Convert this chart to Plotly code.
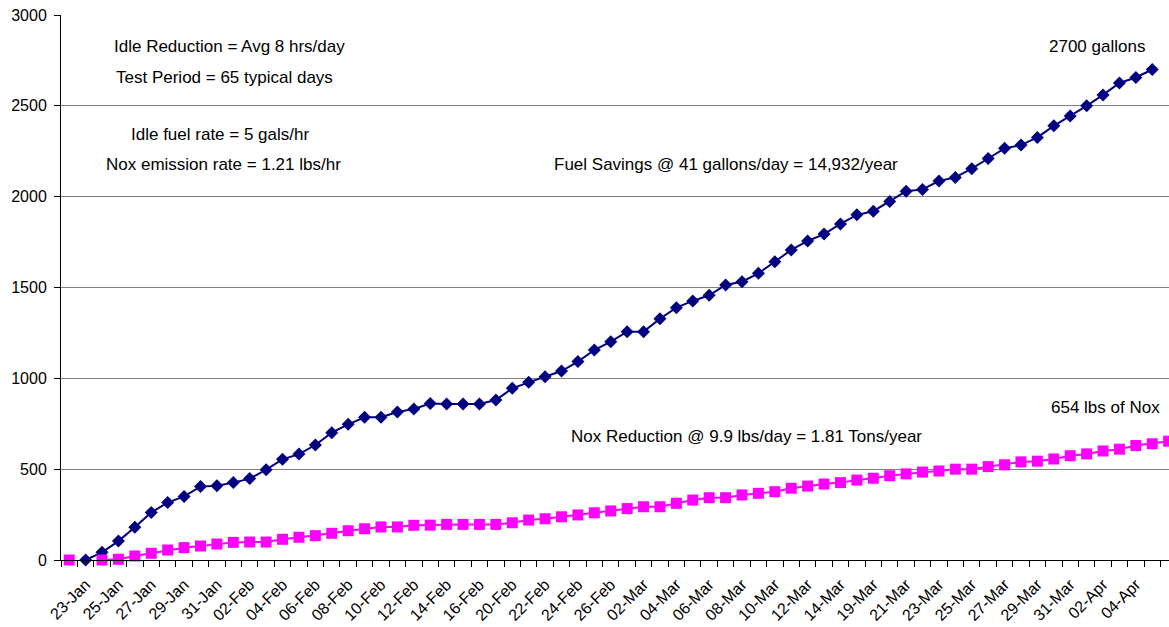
import plotly.graph_objects as go

categories = [
    "22-Jan", "23-Jan", "24-Jan", "25-Jan", "26-Jan", "27-Jan", "28-Jan", "29-Jan", "30-Jan", "31-Jan",
    "01-Feb", "02-Feb", "03-Feb", "04-Feb", "05-Feb", "06-Feb", "07-Feb", "08-Feb", "09-Feb", "10-Feb",
    "11-Feb", "12-Feb", "13-Feb", "14-Feb", "15-Feb", "16-Feb", "17-Feb", "20-Feb", "21-Feb", "22-Feb",
    "23-Feb", "24-Feb", "25-Feb", "26-Feb", "27-Feb", "02-Mar", "03-Mar", "04-Mar", "05-Mar", "06-Mar",
    "07-Mar", "08-Mar", "09-Mar", "10-Mar", "11-Mar", "12-Mar", "13-Mar", "14-Mar", "15-Mar", "19-Mar",
    "20-Mar", "21-Mar", "22-Mar", "23-Mar", "24-Mar", "25-Mar", "26-Mar", "27-Mar", "28-Mar", "29-Mar",
    "30-Mar", "31-Mar", "01-Apr", "02-Apr", "03-Apr", "04-Apr", "05-Apr", "06-Apr",
]

shown_labels = [
    "23-Jan", "25-Jan", "27-Jan", "29-Jan", "31-Jan", "02-Feb", "04-Feb", "06-Feb", "08-Feb", "10-Feb",
    "12-Feb", "14-Feb", "16-Feb", "20-Feb", "22-Feb", "24-Feb", "26-Feb", "02-Mar", "04-Mar", "06-Mar",
    "08-Mar", "10-Mar", "12-Mar", "14-Mar", "19-Mar", "21-Mar", "23-Mar", "25-Mar", "27-Mar", "29-Mar",
    "31-Mar", "02-Apr", "04-Apr",
]

# Cumulative fuel savings (gallons)
fuel_savings = [
    None, 0, 42, 104, 180, 262, 316, 350, 404, 409,
    426, 448, 497, 554, 583, 633, 701, 747, 786, 786,
    815, 831, 861, 859, 859, 859, 881, 945, 978, 1009,
    1040, 1092, 1156, 1202, 1257, 1257, 1328, 1389, 1426, 1457,
    1514, 1532, 1578, 1642, 1707, 1756, 1794, 1850, 1900, 1920,
    1974, 2030, 2040, 2086, 2106, 2154, 2210, 2266, 2284, 2326,
    2390, 2444, 2500, 2560, 2626, 2656, 2700, None,
]

# Cumulative NOx reduction (lbs)
nox_reduction = [
    0, None, 0, 4, 22, 37, 55, 68, 77, 88,
    97, 99, 99, 114, 125, 134, 147, 161, 172, 182,
    182, 191, 192, 196, 196, 196, 196, 205, 220, 227,
    238, 248, 260, 270, 283, 293, 293, 312, 330, 343,
    343, 358, 367, 376, 395, 407, 418, 426, 440, 450,
    464, 474, 484, 490, 500, 500, 514, 524, 540, 544,
    556, 574, 584, 600, 610, 630, 640, 654,
]

notes = [
    ("Idle Reduction = Avg 8 hrs/day", 0.1525, 0.943),
    ("Test Period = 65 typical days", 0.1476, 0.886),
    ("Idle fuel rate = 5 gals/hr", 0.1435, 0.780),
    ("Nox emission rate = 1.21 lbs/hr", 0.1467, 0.725),
    ("Fuel Savings @ 41 gallons/day = 14,932/year", 0.6006, 0.725),
    ("2700 gallons", 0.935, 0.943),
    ("654 lbs of Nox", 0.9427, 0.2807),
    ("Nox Reduction @ 9.9 lbs/day = 1.81 Tons/year", 0.6187, 0.2257),
]

FONT = "Liberation Sans, Arial, sans-serif"

fig = go.Figure()
fig.add_trace(go.Scatter(
    x=categories, y=fuel_savings, mode="lines+markers", name="Fuel Savings",
    line=dict(color="#000080", width=2),
    marker=dict(symbol="diamond", size=10, color="#000080"),
    cliponaxis=False,
))
fig.add_trace(go.Scatter(
    x=categories, y=nox_reduction, mode="lines+markers", name="Nox Reduction",
    line=dict(color="#FF00FF", width=2),
    marker=dict(symbol="square", size=11, color="#FF00FF"),
    cliponaxis=False,
))

tick_text = [c if c in shown_labels else "" for c in categories]

fig.update_xaxes(
    type="category",
    categoryorder="array", categoryarray=categories,
    tickmode="array", tickvals=categories, ticktext=tick_text,
    tickson="boundaries",
    range=[-0.5, 67.02],
    tickangle=-45,
    ticks="outside", ticklen=6, tickcolor="black",
    ticklabelstandoff=8,
    showline=True, linecolor="black", linewidth=1,
    showgrid=False, zeroline=False,
    automargin=False,
    tickfont=dict(family=FONT, size=16, color="black"),
)
fig.update_yaxes(
    range=[0, 3000], tickmode="linear", tick0=0, dtick=500,
    ticks="outside", ticklen=6, tickcolor="black",
    ticklabelstandoff=4,
    showline=True, linecolor="black", linewidth=1,
    showgrid=True, gridcolor="#808080", gridwidth=1,
    zeroline=False,
    automargin=False,
    tickfont=dict(family=FONT, size=16, color="black"),
)

for text, xp, yp in notes:
    fig.add_annotation(
        text=text, x=xp, y=yp, xref="paper", yref="paper",
        xanchor="center", yanchor="middle", showarrow=False,
        font=dict(family=FONT, size=17, color="black"),
    )

fig.update_layout(
    width=1169, height=627,
    margin=dict(l=61, r=0, t=15, b=67),
    plot_bgcolor="white", paper_bgcolor="white",
    showlegend=False,
    font=dict(family=FONT, color="black"),
)

fig.write_html(
    "out.html",
    config={"displayModeBar": False},
    post_script="document.body.style.margin='0';document.body.style.overflow='hidden';",
)
